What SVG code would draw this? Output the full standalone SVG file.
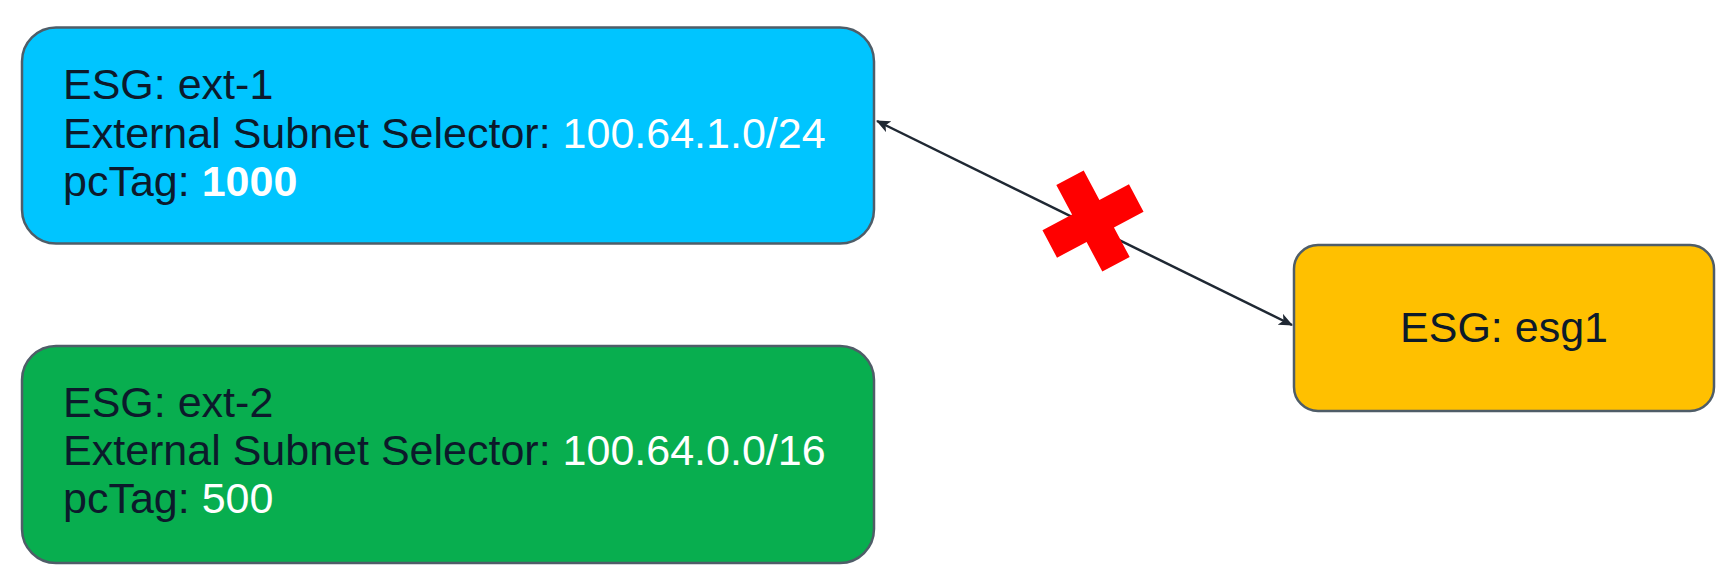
<svg xmlns="http://www.w3.org/2000/svg" width="1728" height="584" viewBox="0 0 1728 584">
  <defs>
    <style>
      .box { stroke: #4f5d68; stroke-width: 2.5; }
      .t { font-family: "Liberation Sans", Arial, sans-serif; font-size: 43px; fill: #0c1a2b; }
      .w { fill: #ffffff; }
      .conn { stroke: #1f2833; stroke-width: 2.5; fill: none; }
    </style>
    <marker id="arr" viewBox="0 0 14 12" refX="13" refY="6" markerWidth="14" markerHeight="12" markerUnits="userSpaceOnUse" orient="auto-start-reverse">
      <path d="M0,0 L14,6 L0,12 L3.5,6 Z" fill="#1f2833"/>
    </marker>
  </defs>
  <rect width="1728" height="584" fill="#ffffff"/>

  <g id="connectors">
    <line class="conn" x1="877" y1="121" x2="1292" y2="325" marker-start="url(#arr)" marker-end="url(#arr)"/>
  </g>

  <g id="ext-1">
    <rect class="box" x="22" y="27.5" width="852" height="216" rx="34" ry="34" fill="#00c5ff"/>
    <text class="t" x="63" y="99">ESG: ext-1</text>
    <text class="t" x="63" y="148">External Subnet Selector: <tspan class="w">100.64.1.0/24</tspan></text>
    <text class="t" x="63" y="196">pcTag: <tspan class="w" font-weight="bold">1000</tspan></text>
  </g>

  <g id="ext-2">
    <rect class="box" x="22" y="346" width="852" height="217" rx="34" ry="34" fill="#08ae4f"/>
    <text class="t" x="63" y="417">ESG: ext-2</text>
    <text class="t" x="63" y="465">External Subnet Selector: <tspan class="w">100.64.0.0/16</tspan></text>
    <text class="t" x="63" y="513">pcTag: <tspan class="w">500</tspan></text>
  </g>

  <g id="esg1">
    <rect class="box" x="1294" y="245" width="420" height="166" rx="24" ry="24" fill="#ffc000"/>
    <text class="t" x="1504" y="342" text-anchor="middle">ESG: esg1</text>
  </g>

  <g id="blocked-mark" transform="translate(1093,221) rotate(-28)">
    <path d="M-15.5,-49 H15.5 V-15.5 H49 V15.5 H15.5 V49 H-15.5 V15.5 H-49 V-15.5 H-15.5 Z" fill="#ff0000"/>
  </g>
</svg>
